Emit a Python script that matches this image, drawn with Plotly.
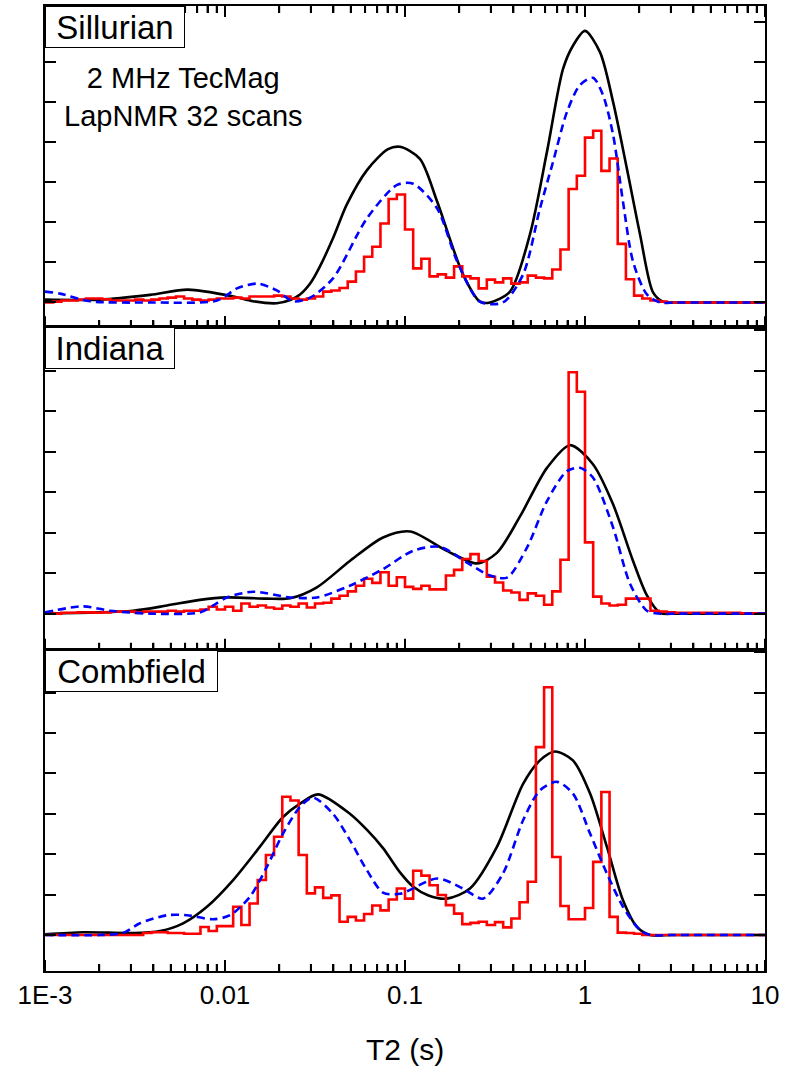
import numpy as np
import plotly.graph_objects as go

# ---------------------------------------------------------------
# T2 relaxation-time distributions for three sandstone samples.
# Amplitudes are in arbitrary units (one y tick = 1 unit).
# ---------------------------------------------------------------

# Histogram bins of the inverted distribution: 22 log bins per decade, 1 ms .. 10 s
BINS_PER_DECADE = 22
bin_edges = np.logspace(-3, 1, 4 * BINS_PER_DECADE + 1)

# --- Sillurian -------------------------------------------------
sil_hist = [
    0.0, 0.02, 0.05, 0.05, 0.07, 0.1, 0.1, 0.08, 0.05, 0.05,
    0.05, 0.07, 0.05, 0.07, 0.1, 0.12, 0.15, 0.1, 0.07, 0.05,
    0.07, 0.1, 0.1, 0.12, 0.1, 0.15, 0.15, 0.15, 0.17, 0.15,
    0.1, 0.07, 0.1, 0.15, 0.27, 0.3, 0.36, 0.52, 0.77, 1.14,
    1.39, 1.97, 2.58, 2.69, 1.82, 0.85, 1.09, 0.65, 0.7, 0.62,
    0.9, 0.65, 0.6, 0.35, 0.57, 0.5, 0.6, 0.47, 0.5, 0.67,
    0.62, 0.6, 0.82, 1.32, 2.83, 3.16, 4.11, 4.28, 3.28, 3.59,
    1.46, 0.58, 0.17, 0.1, 0.05, 0.02, 0.0, 0.0, 0.0, 0.0,
    0.0, 0.0, 0.0, 0.0, 0.0, 0.0, 0.0, 0.0,
]
sil_black_t2 = [0.001, 0.00202, 0.00383, 0.00622, 0.0111, 0.0143, 0.0194, 0.023, 0.0261,
                0.03, 0.0337, 0.0398, 0.0476, 0.0615, 0.0805, 0.0938, 0.121, 0.151, 0.21,
                0.261, 0.297, 0.383, 0.494, 0.615, 0.755, 0.857, 1.0, 1.211, 1.432, 1.71,
                2.023, 2.388, 2.71, 3.2, 4.5, 10.0]
sil_black_amp = [0.07, 0.07, 0.19, 0.32, 0.15, 0.03, -0.02, 0.06, 0.2,
                 0.5, 0.9, 1.6, 2.45, 3.3, 3.82, 3.88, 3.58, 2.51, 0.7,
                 0.02, 0.0, 0.27, 1.69, 3.76, 5.82, 6.4, 6.77, 6.24, 5.0, 3.33,
                 1.69, 0.25, 0.02, 0.0, 0.0, 0.0]
sil_blue_t2 = [0.001, 0.00121, 0.00178, 0.00383, 0.00904, 0.01166, 0.0151, 0.0194, 0.0239,
               0.0297, 0.0398, 0.0615, 0.0904, 0.111, 0.151, 0.195, 0.261, 0.35, 0.453,
               0.562, 0.664, 0.794, 0.938, 1.107, 1.259, 1.432, 1.626, 1.849, 2.208,
               2.612, 3.2, 4.5, 10.0]
sil_blue_amp = [0.27, 0.22, 0.03, 0.0, 0.05, 0.35, 0.47, 0.3, 0.03,
                0.12, 0.6, 2.1, 2.93, 2.96, 2.34, 1.02, 0.02, 0.0, 0.7,
                2.34, 3.5, 4.75, 5.42, 5.6, 5.17, 4.18, 2.51, 1.02, 0.2,
                0.0, 0.0, 0.0, 0.0]

# --- Indiana ---------------------------------------------------
ind_hist = [
    0.0, 0.0, 0.02, 0.02, 0.03, 0.03, 0.02, 0.03, 0.05, 0.05,
    0.05, 0.03, 0.05, 0.05, 0.05, 0.07, 0.05, 0.07, 0.07, 0.1,
    0.17, 0.1, 0.17, 0.07, 0.25, 0.17, 0.2, 0.15, 0.12, 0.2,
    0.17, 0.25, 0.15, 0.25, 0.27, 0.37, 0.44, 0.55, 0.69, 0.86,
    0.76, 1.02, 0.69, 0.9, 0.66, 0.61, 0.69, 0.6, 0.6, 0.94,
    1.08, 1.35, 1.47, 1.3, 0.91, 0.77, 0.57, 0.52, 0.34, 0.5,
    0.44, 0.22, 0.55, 1.33, 5.96, 5.48, 1.76, 0.42, 0.25, 0.2,
    0.22, 0.37, 0.37, 0.37, 0.07, 0.05, 0.03, 0.02, 0.02, 0.02,
    0.02, 0.02, 0.02, 0.02, 0.02, 0.01, 0.01, 0.0,
]
ind_black_t2 = [0.001, 0.00308, 0.00476, 0.00726, 0.01026, 0.0171, 0.023, 0.0324, 0.0494,
                0.0755, 0.1067, 0.171, 0.251, 0.324, 0.4355, 0.615, 0.826, 1.107, 1.432,
                1.849, 2.208, 2.612, 3.2, 4.5, 10.0]
ind_black_amp = [0.0, 0.07, 0.2, 0.34, 0.4, 0.37, 0.38, 0.65, 1.3,
                 1.88, 2.03, 1.55, 1.24, 1.5, 2.4, 3.6, 4.16, 3.69, 2.7,
                 1.3, 0.45, 0.02, 0.0, 0.0, 0.0]
ind_blue_t2 = [0.001, 0.00163, 0.0023, 0.00383, 0.00726, 0.00857, 0.01026, 0.0143, 0.023,
               0.0324, 0.0494, 0.0755, 0.1107, 0.156, 0.221, 0.297, 0.369, 0.476, 0.615,
               0.794, 0.938, 1.107, 1.432, 1.778, 2.208, 2.612, 3.2, 4.5, 10.0]
ind_blue_amp = [0.03, 0.18, 0.07, 0.0, 0.03, 0.2, 0.4, 0.54, 0.4,
                0.4, 0.69, 1.1, 1.55, 1.65, 1.26, 0.94, 0.89, 1.63, 2.78,
                3.52, 3.6, 3.36, 2.13, 0.74, 0.07, 0.0, 0.0, 0.0, 0.0]

# --- Combfield -------------------------------------------------
com_hist = [
    0.0, 0.0, 0.0, 0.0, 0.0, 0.0, 0.0, 0.0, 0.0, 0.0,
    0.0, 0.0, 0.05, 0.07, 0.07, 0.05, 0.05, 0.03, 0.03, 0.2,
    0.1, 0.22, 0.22, 0.7, 0.25, 0.78, 1.36, 1.98, 2.43, 3.42,
    3.33, 1.98, 1.03, 1.18, 0.92, 0.98, 0.33, 0.45, 0.36, 0.52,
    0.73, 0.61, 0.88, 1.15, 0.9, 1.59, 1.47, 1.23, 0.99, 0.74,
    0.53, 0.27, 0.3, 0.33, 0.25, 0.32, 0.19, 0.41, 0.81, 1.32,
    4.65, 6.13, 1.93, 0.72, 0.39, 0.39, 0.67, 1.81, 3.54, 0.45,
    0.06, 0.05, 0.03, 0.0, 0.0, 0.0, 0.0, 0.0, 0.0, 0.0,
    0.0, 0.0, 0.0, 0.0, 0.0, 0.0, 0.0, 0.0,
]
com_black_t2 = [0.001, 0.00163, 0.00308, 0.00436, 0.00585, 0.00794, 0.0111, 0.0156, 0.021,
                0.0261, 0.0329, 0.0494, 0.0615, 0.0755, 0.0938, 0.1107, 0.135, 0.171, 0.2296,
                0.324, 0.453, 0.562, 0.681, 0.857, 1.067, 1.324, 1.626, 1.945, 2.3,
                3.0, 4.5, 10.0]
com_black_amp = [0.02, 0.07, 0.05, 0.1, 0.29, 0.7, 1.36, 2.18, 2.92,
                 3.25, 3.48, 3.0, 2.6, 2.15, 1.55, 1.2, 0.98, 0.9, 1.15,
                 2.18, 3.74, 4.32, 4.54, 4.32, 3.5, 2.18, 0.86, 0.2, 0.0,
                 0.0, 0.0, 0.0]
com_blue_t2 = [0.001, 0.00202, 0.00271, 0.00337, 0.00476, 0.00615, 0.00857, 0.01067, 0.01377,
               0.0171, 0.021, 0.0261, 0.0308, 0.0398, 0.0494, 0.0615, 0.0755, 0.0938, 0.151,
               0.21, 0.271, 0.35, 0.453, 0.562, 0.698, 0.857, 1.067, 1.324, 1.626,
               2.023, 2.3, 3.0, 4.5, 10.0]
com_blue_amp = [0.0, 0.0, 0.05, 0.29, 0.49, 0.49, 0.39, 0.49, 0.95,
                1.69, 2.51, 3.17, 3.4, 3.0, 2.35, 1.6, 1.05, 1.02, 1.4,
                1.15, 0.9, 1.52, 2.84, 3.58, 3.79, 3.5, 2.51, 1.52, 0.7,
                0.12, 0.0, 0.0, 0.0, 0.0]

panel_names = ["Sillurian", "Indiana", "Combfield"]
panel_hist = [sil_hist, ind_hist, com_hist]
panel_black = [(sil_black_t2, sil_black_amp), (ind_black_t2, ind_black_amp), (com_black_t2, com_black_amp)]
panel_blue = [(sil_blue_t2, sil_blue_amp), (ind_blue_t2, ind_blue_amp), (com_blue_t2, com_blue_amp)]
panel_yrange = [[-0.62, 7.39], [-0.89, 7.07], [-0.89, 7.06]]
label_box_w = [140, 130, 173]

x_tickvals = [0.001, 0.01, 0.1, 1, 10]
x_ticktext = ["1E-3", "0.01", "0.1", "1", "10"]
x_minor_digits = [2, 3, 4, 5, 6, 7, 8, 9]
x_minorvals = [d * v for v in x_tickvals[:-1] for d in x_minor_digits]

FONT = "Arial, Liberation Sans, sans-serif"
W, H = 794, 1071
M_L, M_R, M_T, M_B = 45, 29, 4, 100
MAJOR_LEN, MINOR_LEN = 11, 7
TICK_W = 2

# vertical domains of the three stacked panels (pixel borders 4 / 326 / 649 / 971)
plot_h = H - M_T - M_B
borders = [4, 326, 649, 971]
domains = []
for k in range(3):
    top = (H - M_B - borders[k]) / plot_h
    bot = (H - M_B - borders[k + 1]) / plot_h
    domains.append([max(bot, 0.0), min(top, 1.0)])

# decade ticks and the 2..9 sub-ticks between them, as (value, length in px) pairs
x_ticks = [(v, MAJOR_LEN) for v in x_tickvals] + [(v, MINOR_LEN) for v in x_minorvals]

fig = go.Figure()
annotations = []
for k in range(3):
    xa = "x" if k == 0 else f"x{k + 1}"
    ya = "y" if k == 0 else f"y{k + 1}"
    y_lo, y_hi = panel_yrange[k]
    units_per_px = (y_hi - y_lo) / (borders[k + 1] - borders[k])

    # inward x tick marks drawn in data space (bottom edge of every panel, top of the first)
    tx, ty = [], []
    for v, ln in x_ticks:
        tx += [v, v, None]
        ty += [y_lo, y_lo + ln * units_per_px, None]
        if k == 0:
            tx += [v, v, None]
            ty += [y_hi, y_hi - ln * units_per_px, None]
    fig.add_trace(go.Scatter(
        x=tx, y=ty, xaxis=xa, yaxis=ya, mode="lines",
        line=dict(color="black", width=TICK_W), connectgaps=False,
        showlegend=False, hoverinfo="skip"))

    bt, ba = panel_black[k]
    fig.add_trace(go.Scatter(
        x=bt, y=ba, xaxis=xa, yaxis=ya, mode="lines",
        line=dict(color="black", width=2.6, shape="spline", smoothing=0.8),
        showlegend=False, hoverinfo="skip"))

    hist = panel_hist[k]
    fig.add_trace(go.Scatter(
        x=bin_edges, y=list(hist) + [hist[-1]], xaxis=xa, yaxis=ya, mode="lines",
        line=dict(color="#ff0000", width=2.6, shape="hv"),
        showlegend=False, hoverinfo="skip"))

    ut, ua = panel_blue[k]
    fig.add_trace(go.Scatter(
        x=ut, y=ua, xaxis=xa, yaxis=ya, mode="lines",
        line=dict(color="#0000ff", width=2.6, shape="spline", smoothing=0.8, dash="8px,5px"),
        showlegend=False, hoverinfo="skip"))

    # the axis' own ticks sit at the same places as the drawn ones
    xaxis = dict(
        type="log", range=[-3, 1], domain=[0, 1], anchor=ya,
        showline=True, linecolor="black", linewidth=2,
        mirror="ticks" if k == 0 else True,
        ticks="inside", ticklen=MAJOR_LEN, tickwidth=TICK_W, tickcolor="black",
        tickmode="array", tickvals=x_tickvals, ticktext=x_ticktext,
        minor=dict(ticks="inside", ticklen=MINOR_LEN, tickwidth=TICK_W, tickcolor="black",
                   tickmode="array", tickvals=x_minorvals, showgrid=False),
        showticklabels=(k == 2),
        tickfont=dict(family=FONT, size=26, color="black"),
        showgrid=False, zeroline=False,
    )
    yaxis = dict(
        range=panel_yrange[k], domain=domains[k], anchor=xa,
        showline=True, linecolor="black", linewidth=2, mirror="ticks",
        ticks="inside", ticklen=MAJOR_LEN, tickwidth=TICK_W, tickcolor="black",
        dtick=1, tick0=0, showticklabels=False,
        showgrid=False, zeroline=False,
    )
    fig.layout["xaxis" if k == 0 else f"xaxis{k + 1}"] = xaxis
    fig.layout["yaxis" if k == 0 else f"yaxis{k + 1}"] = yaxis

    # boxed sample name in the upper-left corner of each panel
    annotations.append(dict(
        text=panel_names[k], xref="paper", yref="paper",
        x=0, y=domains[k][1], xanchor="left", yanchor="top",
        showarrow=False, font=dict(family=FONT, size=33, color="black"),
        width=label_box_w[k] - 2, height=40, align="center", valign="middle",
        bgcolor="white", bordercolor="black", borderwidth=1, borderpad=0,
    ))

annotations.append(dict(
    text="2 MHz TecMag<br>LapNMR 32 scans", xref="paper", yref="paper",
    x=(183 - M_L) / (W - M_L - M_R), y=(H - M_B - 95) / plot_h,
    xanchor="center", yanchor="middle", showarrow=False,
    font=dict(family=FONT, size=29, color="black"),
))
annotations.append(dict(
    text="T2 (s)", xref="paper", yref="paper",
    x=(405 - M_L) / (W - M_L - M_R), y=-(1050 - (H - M_B)) / plot_h,
    xanchor="center", yanchor="middle", showarrow=False,
    font=dict(family=FONT, size=30, color="black"),
))

fig.update_layout(
    width=W, height=H,
    margin=dict(l=M_L, r=M_R, t=M_T, b=M_B),
    paper_bgcolor="white", plot_bgcolor="white",
    annotations=annotations,
    showlegend=False,
)

fig.write_html("out.html")
